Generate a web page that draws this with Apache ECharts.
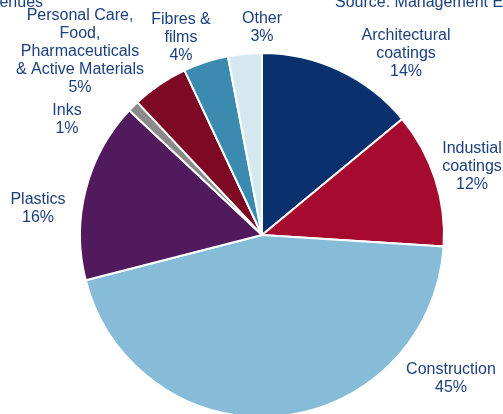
<!DOCTYPE html>
<html>
<head>
<meta charset="utf-8">
<script src="https://cdn.jsdelivr.net/npm/echarts@6/dist/echarts.min.js"></script>
<style>
  html, body { margin: 0; padding: 0; background: #fff; }
  #chart { width: 503px; height: 414px; }
</style>
</head>
<body>
<div id="chart"></div>
<script>
var segments = ['Architectural\ncoatings', 'Industial\ncoatings', 'Construction', 'Plastics', 'Inks',
  'Personal Care,\nFood,\nPharmaceuticals\n& Active Materials', 'Fibres &\nfilms', 'Other'];
var shares = [14, 12, 45, 16, 1, 5, 4, 3];
var colors = ['#0a306e', '#a60b2f', '#86bcd8', '#501a5c', '#8a8a8a', '#7d0924', '#3b8bb0', '#d5e8f0'];

// label centres (layout only)
var labelPos = [[406, 54], [472, 167], [451, 379], [38, 209], [67, 120], [80, 52], [181, 38], [262, 28]];

var textColor = '#1c3f7e';
var font = 'Liberation Sans, Arial, sans-serif';

var data = [];
for (var i = 0; i < segments.length; i++) {
  data.push({ name: segments[i], value: shares[i], itemStyle: { color: colors[i] } });
}

var chart = echarts.init(document.getElementById('chart'));
chart.setOption({
  backgroundColor: '#fff',
  animation: false,
  graphic: [
    { type: 'text', left: -29, top: -5, style: { text: 'Revenues', fill: textColor, font: '16px ' + font } },
    { type: 'text', left: 335, top: -5, style: { text: 'Source: Management Estimates', fill: textColor, font: '16px ' + font } }
  ],
  series: [{
    type: 'pie',
    center: [262, 235],
    radius: [0, 182],
    startAngle: 90,
    clockwise: true,
    data: data,
    itemStyle: { borderColor: '#fff', borderWidth: 2 },
    label: {
      show: true,
      position: 'inside',
      overflow: 'none',
      color: textColor,
      fontFamily: font,
      fontSize: 16,
      lineHeight: 18,
      align: 'center',
      formatter: function (p) { return p.name + '\n' + p.value + '%'; }
    },
    labelLine: { show: false },
    labelLayout: function (params) {
      var p = labelPos[params.dataIndex];
      return { x: p[0], y: p[1], align: 'center', verticalAlign: 'middle' };
    }
  }]
});
</script>
</body>
</html>
